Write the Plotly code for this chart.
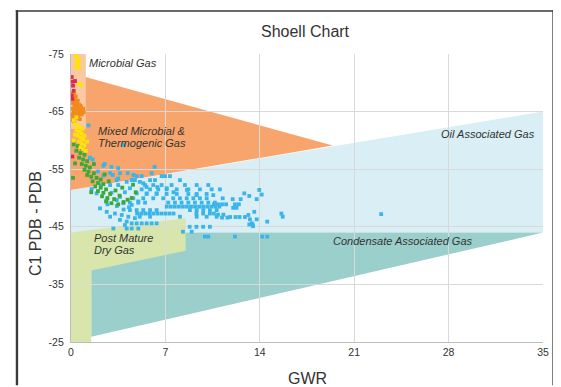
import plotly.graph_objects as go

# ---- axis ticks ----
x_ticks = [0, 7, 14, 21, 28, 35]
y_ticks = [-75, -65, -55, -45, -35, -25]

# ---- region polygons (GWR, C1 delta) ----
oil_x = [0, 35, 35, 0]
oil_y = [-51.4, -65, -44, -44]
cond_x = [1.5, 1.5, 35]
cond_y = [-25.9, -44, -44]
post_x = [0, 8.5, 8.5, 1.5, 1.5, 0]
post_y = [-44, -46.5, -40.85, -37.4, -25, -25]
mixed_x = [0, 19.4, 0]
mixed_y = [-71.7, -59.1, -51.4]
micro_x = [0, 1.1, 1.1, 0]
micro_y = [-75, -75, -62, -62]

# ---- sample points ----
red_x = [0.05, 0.1, 0.15, 0.2, 0.05, 0.1, 0.1, 0.3]
red_y = [-71.0, -70.2, -69.5, -68.6, -67.8, -67.2, -57.2, -70.3]

yellow_x = [0.35, 0.5, 0.6, 0.45, 0.55, 0.4, 0.6, 0.5, 0.6, 0.75, 0.4, 0.2,
            0.3, 0.5, 0.7, 0.4, 0.6, 0.8, 0.5, 0.7, 0.9, 0.6, 0.8, 1.0,
            0.7, 0.9, 1.1, 0.3, 0.2, 1.2, 0.85, 1.0]
yellow_y = [-74.6, -74.4, -74.0, -73.6, -73.2, -72.8, -72.6, -73.9, -69.8, -69.6, -64.0, -63.5,
            -62.8, -62.5, -62.2, -61.8, -61.5, -61.2, -60.8, -60.5, -60.2, -59.8, -59.5, -59.2,
            -58.8, -58.5, -58.2, -61.0, -60.0, -59.8, -62.0, -60.8]

orange_x = [0.05, 0.2, 0.35, 0.1, 0.3, 0.5, 0.15, 0.4, 0.6, 0.25, 0.5, 0.75, 0.1, 0.35,
            0.6, 0.85, 0.2, 0.45, 0.7, 0.95, 0.1, 0.3, 0.55, 0.8, 0.15, 0.4, 0.65, 0.05,
            0.25, 0.45, 0.7, 0.9, 0.25]
orange_y = [-68.2, -68.0, -67.6, -67.3, -67.0, -66.9, -66.5, -66.4, -66.2, -66.0, -65.8, -65.7, -65.5, -65.4,
            -65.3, -65.2, -65.0, -64.9, -64.8, -64.9, -64.5, -64.4, -64.3, -64.5, -64.0, -63.9, -63.7, -63.5,
            -63.3, -66.7, -66.0, -65.5, -67.9]

green_x = [0.2, 0.5, 0.8, 0.4, 0.7, 1.0, 0.6, 0.9, 1.2, 0.3, 0.8, 1.1, 1.4, 1.0, 1.3, 1.7,
           1.2, 1.5, 1.9, 2.2, 1.6, 2.0, 2.4, 1.8, 2.2, 2.6, 2.0, 2.4, 2.9, 2.3, 2.7, 3.2,
           2.6, 3.0, 3.5, 3.9, 4.5, 4.8, 4.6, 0.15, 1.5, 3.6,
           2.8, 3.3, 1.7, 2.5, 3.8, 4.2]
green_y = [-59.3, -59.0, -58.6, -58.2, -57.8, -57.5, -57.0, -56.7, -56.4, -56.0, -55.9, -55.6, -55.3, -54.9, -54.6, -54.3,
           -54.0, -53.7, -53.5, -53.2, -52.9, -52.6, -52.4, -52.0, -51.8, -51.5, -51.2, -50.9, -50.7, -50.3, -50.0, -49.8,
           -49.4, -49.1, -48.9, -49.3, -50.0, -51.0, -52.3, -53.5, -51.0, -50.4,
           -52.9, -51.3, -55.9, -54.1, -51.8, -49.7]

blue_x = [1.3, 3.9, 1.4, 1.6, 2.5, 3.0, 3.5, 2.4, 2.9, 6.2, 3.63, 4.62, 5.98, 4.2, 4.6, 5.1,
          5.6, 6.4, 7.1, 7.6, 8.6, 9.3, 3.5, 4.0, 5.36, 4.37, 4.87, 5.61, 6.35, 3.63,
          4.87, 5.24, 6.72, 6.97, 7.34, 4.5, 4.74, 5.86, 6.23, 8.08,
          5.49, 6.1, 6.72, 7.46, 8.45, 9.32, 10.18,
          5.24, 5.86, 6.47, 7.09, 7.84, 8.7, 9.56, 10.43,
          5.61, 6.35, 7.09, 7.84, 8.7, 9.32, 10.06,
          4.62, 5.36, 6.1, 6.84, 7.58, 8.08, 8.58, 9.07, 9.56, 10.06,
          4.37, 4.99, 5.49, 7.21, 7.71, 8.2, 8.7, 9.19, 9.69, 10.18, 10.67,
          7.1, 7.4, 7.7, 8.0, 8.3, 8.6, 8.9, 9.2, 9.5, 9.8, 10.1, 10.4, 10.7, 11.0,
          4.37, 4.87, 5.36, 5.86, 6.35, 8.82, 9.32, 9.81, 10.3, 10.8,
          4.9, 5.2, 5.5, 5.8, 6.1, 6.4, 6.7, 7.0, 7.3, 7.6, 9.3, 9.8, 10.3, 10.6, 10.9, 11.3,
          5.1, 5.86, 8.08, 9.32, 10.06, 10.8, 11.2, 11.6,
          4.87, 5.24, 5.61, 5.98, 6.35, 8.95, 9.93, 10.18,
          1.53, 1.9, 2.9, 3.39, 4.13, 2.65, 3.39, 3.88, 4.5, 4.99, 2.15,
          2.65, 3.26, 3.76, 4.25, 4.74, 2.9, 3.63, 4.13, 4.0, 4.5, 3.14, 4.13, 4.5, 4.99,
          11.04, 10.55, 11.25, 11.99, 12.58, 12.85, 13.22, 13.96, 14.14, 13.77,
          10.6, 10.9, 11.2, 11.5, 12.16, 12.45, 12.03, 12.28, 13.59,
          11.8, 12.2, 12.5, 12.9, 13.27, 13.4, 13.77, 13.22, 13.47, 14.55, 13.15, 13.5,
          15.6, 15.7, 23.0, 12.16, 14.18, 14.55, 8.8, 9.3, 9.8, 10.3, 8.3,
          2.0, 2.4, 3.1, 3.5, 2.2, 3.0, 3.4, 2.7, 3.9, 4.3]
blue_y = [-62.6, -59.2, -57.0, -56.7, -55.9, -55.4, -55.2, -55.6, -54.3, -55.4, -54.3, -54.0, -54.3, -54.3, -53.1, -52.8,
          -51.9, -51.9, -51.7, -51.0, -51.4, -50.5, -52.25, -51.0, -52.55, -51.7, -50.8, -50.8, -50.8, -50.2,
          -53.8, -53.8, -53.8, -53.8, -53.8, -53.1, -53.1, -53.1, -53.1, -53.1,
          -52.25, -52.25, -52.25, -52.25, -52.25, -52.25, -52.25,
          -51.5, -51.5, -51.5, -51.5, -51.5, -51.5, -51.5, -51.5,
          -50.7, -50.7, -50.7, -50.7, -50.7, -50.7, -50.7,
          -49.95, -49.95, -49.95, -49.95, -49.95, -49.95, -49.95, -49.95, -49.95, -49.95,
          -49.2, -49.2, -49.2, -49.2, -49.2, -49.2, -49.2, -49.2, -49.2, -49.2, -49.2,
          -48.5, -48.5, -48.5, -48.5, -48.5, -48.5, -48.5, -48.5, -48.5, -48.5, -48.5, -48.5, -48.5, -48.5,
          -47.9, -47.9, -47.9, -47.9, -47.9, -47.9, -47.9, -47.9, -47.9, -47.9,
          -47.3, -47.3, -47.3, -47.3, -47.3, -47.3, -47.3, -47.3, -47.3, -47.3, -47.3, -47.3, -47.3, -47.3, -47.1, -47.1,
          -46.75, -46.75, -46.75, -46.75, -46.75, -46.75, -46.6, -46.6,
          -45.6, -45.6, -45.6, -45.6, -45.6, -44.15, -43.3, -43.3,
          -51.55, -50.8, -52.25, -53.1, -52.8, -49.65, -49.65, -49.1, -48.8, -49.4, -48.2,
          -47.6, -47.3, -47.05, -46.75, -46.5, -46.75, -46.2, -45.9, -45.3, -45.6, -44.7, -44.7, -44.7, -44.7,
          -51.5, -50.5, -49.95, -49.8, -49.8, -50.8, -50.35, -51.4, -50.6, -49.8,
          -48.9, -48.9, -48.9, -48.9, -48.9, -48.9, -48.3, -48.3, -47.6,
          -46.7, -46.7, -46.7, -46.7, -46.3, -45.6, -46.3, -45.4, -45.4, -45.9, -47.05, -45.1,
          -47.3, -46.75, -47.2, -43.3, -43.3, -43.3, -45.0, -45.0, -45.0, -45.0, -44.15,
          -54.6, -53.9, -54.0, -53.4, -52.2, -50.9, -48.6, -48.9, -48.0, -48.4]

# ---- styling ----
TEXT = "#333333"
FONT = "Arial"


def poly_path(xs, ys):
    return "M " + " L ".join(f"{a},{b}" for a, b in zip(xs, ys)) + " Z"


fig = go.Figure()

regions = [
    (oil_x, oil_y, "#d9eef5"),
    (cond_x, cond_y, "#9bcfcc"),
    (post_x, post_y, "#d8e6ab"),
    (mixed_x, mixed_y, "#f7a56d"),
    (micro_x, micro_y, "#fac8a2"),
]
shapes = []
for xs, ys, col in regions:
    shapes.append(dict(type="path", path=poly_path(xs, ys), xref="x", yref="y",
                       fillcolor=col, line=dict(width=0), layer="below"))

# outer frame: thin filled bars on the left, top and right (bottom lies below the window)
FRAME = "#3a3a3a"
frame_bars = [(-0.1170, -0.1120, -0.15, 1.1520),   # left
              (-0.1170, 1.0228, 1.1470, 1.1520),   # top
              (1.0198, 1.0228, -0.15, 1.1520)]     # right
for x0, x1, y0, y1 in frame_bars:
    shapes.append(dict(type="rect", xref="paper", yref="paper", x0=x0, x1=x1, y0=y0, y1=y1,
                       fillcolor=FRAME, line=dict(width=0), layer="above"))

for xs, ys, col in [(blue_x, blue_y, "#3ab5ea"), (green_x, green_y, "#3ca937"),
                    (orange_x, orange_y, "#f08a1f"), (yellow_x, yellow_y, "#ffe20a"),
                    (red_x, red_y, "#e2264d")]:
    fig.add_trace(go.Scatter(x=xs, y=ys, mode="markers",
                             marker=dict(symbol="square", size=3.8, color=col, line=dict(width=0)),
                             hoverinfo="skip", showlegend=False))

ann_font = dict(family=FONT, size=11, color=TEXT)
ann_style = dict(showarrow=False, xref="x", yref="y", font=ann_font)
annotations = [
    dict(text="<i>Microbial Gas</i>", x=1.2, y=-73.4, xanchor="left", yanchor="middle", **ann_style),
    dict(text="<i>Mixed Microbial &</i>", x=5.2, y=-61.7, xanchor="center", yanchor="middle", **ann_style),
    dict(text="<i>Thermogenic Gas</i>", x=5.25, y=-59.5, xanchor="center", yanchor="middle", **ann_style),
    dict(text="<i>Oil Associated Gas</i>", x=34.55, y=-61.1, xanchor="right", yanchor="middle", **ann_style),
    dict(text="<i>Condensate Associated Gas</i>", x=19.3, y=-42.6, xanchor="left", yanchor="middle", **ann_style),
    dict(text="<i>Post Mature</i>", x=1.55, y=-43.1, xanchor="left", yanchor="middle", **ann_style),
    dict(text="<i>Dry Gas</i>", x=1.55, y=-41.0, xanchor="left", yanchor="middle", **ann_style),
    dict(text="Shoell Chart", x=0.4958, y=1.0764, xref="paper", yref="paper", showarrow=False,
         xanchor="center", yanchor="middle", font=dict(family=FONT, size=16, color=TEXT)),
    dict(text="GWR", x=0.5, y=-0.125, xref="paper", yref="paper", showarrow=False,
         xanchor="center", yanchor="middle", font=dict(family=FONT, size=16, color=TEXT)),
    dict(text="C1 PDB - PDB", x=-0.0763, y=0.413, xref="paper", yref="paper", showarrow=False,
         textangle=-90, xanchor="center", yanchor="middle", font=dict(family=FONT, size=16, color=TEXT)),
]

axis_common = dict(showgrid=True, gridcolor="#d9d9d9", gridwidth=1.3, zeroline=False,
                   showline=True, linecolor="#bdbdbd", linewidth=1.3, ticks="",
                   tickfont=dict(family=FONT, size=10.5, color=TEXT), fixedrange=True)

# the page places the figure 8px from the top-left corner of the window
fig.update_layout(
    width=553, height=379,
    margin=dict(l=63, r=18, t=46, b=45, autoexpand=False),
    paper_bgcolor="white", plot_bgcolor="white",
    shapes=shapes, annotations=annotations,
    xaxis=dict(range=[0, 35], tickvals=x_ticks, ticktext=[str(v) for v in x_ticks],
               **axis_common),
    yaxis=dict(range=[-25, -75], tickvals=y_ticks, ticktext=[str(v) for v in y_ticks],
               ticklabelstandoff=4, **axis_common),
    showlegend=False,
)

fig.write_html("out.html")
